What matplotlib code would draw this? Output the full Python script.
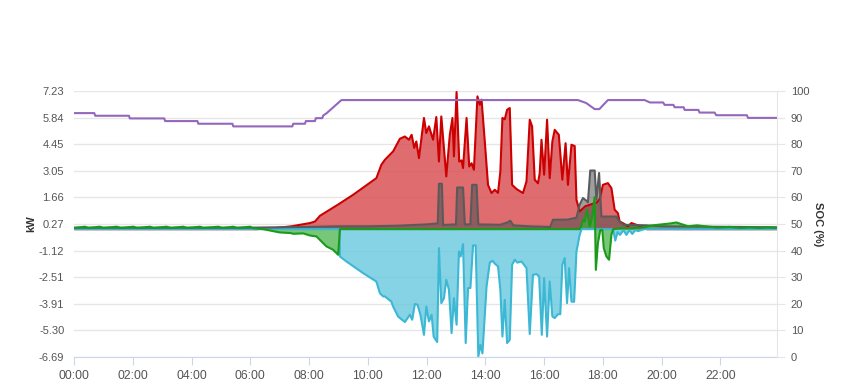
import numpy as np
import matplotlib
matplotlib.use("Agg")
import matplotlib.pyplot as plt

plt.rcParams['font.family'] = ['Liberation Sans', 'DejaVu Sans']

# time in hours of day
pv_t = [0, 6.2, 6.8, 7.4, 8.03, 8.2, 8.37, 9.0, 9.5, 9.9, 10.29, 10.46, 10.58, 10.86, 11.09,
        11.26, 11.4, 11.49, 11.58, 11.65, 11.74, 11.91, 11.99, 12.08, 12.22, 12.33, 12.42,
        12.5, 12.67, 12.79, 12.88, 12.93, 13.02, 13.11, 13.19, 13.24, 13.36, 13.45, 13.53,
        13.61, 13.73, 13.81, 13.87, 13.98, 14.09, 14.21, 14.32, 14.43, 14.51, 14.58, 14.66,
        14.74, 14.83, 14.91, 15.06, 15.28, 15.4, 15.51, 15.59, 15.68, 15.79, 15.85, 15.91,
        16.0, 16.1, 16.19, 16.28, 16.36, 16.5, 16.62, 16.73, 16.81, 16.93, 17.04, 17.1,
        17.21, 17.4, 17.6, 17.8, 17.9, 18.0, 18.17, 18.29, 18.4, 18.51, 18.57, 18.7, 18.85,
        18.97, 19.1, 19.31, 19.5, 23.92]
pv_kw = [0, 0, 0.05, 0.15, 0.32, 0.4, 0.7, 1.3, 1.8, 2.24, 2.67, 3.37, 3.63, 4.07, 4.73,
         4.85, 4.68, 4.94, 4.25, 4.59, 3.72, 5.82, 5.03, 5.38, 4.68, 5.87, 3.54,
         5.9, 2.76, 4.94, 5.82, 3.81, 7.18, 3.54, 3.6, 3.2, 5.82, 3.28, 3.45,
         3.11, 6.95, 6.51, 6.78, 4.59, 2.32, 1.89, 2.06, 1.9, 3.02, 5.82, 5.75,
         6.25, 6.34, 2.32, 2.1, 1.89, 2.5, 5.73, 5.38, 2.59, 2.4, 2.94, 4.68,
         2.85, 5.73, 2.67, 4.59, 5.2, 4.94, 2.59, 4.5, 2.32, 4.42, 4.35, 1.54,
         0.93, 1.2, 1.3, 1.4, 1.6, 2.32, 2.41, 2.15, 1.02, 0.84, 0.4, 0.3, 0.14,
         0.32, 0.25, 0.14, 0.0, 0]

load_t = [0, 6.0, 7.0, 8.0, 9.0, 10.0, 11.0, 12.0, 12.38, 12.42, 12.52, 12.56, 13.0, 13.04,
          13.24, 13.3, 13.49, 13.55, 13.7, 13.76, 14.5, 14.75, 14.85, 14.95, 15.5, 16.15,
          16.19, 16.3, 16.8, 17.1, 17.21, 17.32, 17.43, 17.49, 17.57, 17.72, 17.78, 17.87,
          17.95, 18.46, 18.57, 18.7, 19.5, 20.0, 23.92]
load_kw = [0.08, 0.08, 0.1, 0.12, 0.15, 0.15, 0.18, 0.25, 0.3, 2.38, 2.38, 0.22, 0.25, 2.18,
           2.18, 0.25, 0.25, 2.32, 2.32, 0.25, 0.23, 0.35, 0.44, 0.2, 0.15, 0.12,
           0.05, 0.49, 0.5, 0.6, 1.28, 1.63, 1.5, 1.4, 3.07, 3.07, 1.54, 2.94,
           0.66, 0.66, 0.4, 0.23, 0.2, 0.15, 0.1]

grid_t = [0, 9.04, 9.05, 9.27, 9.84, 10.29, 10.41, 10.52, 10.58, 10.8, 10.86, 11.03, 11.09,
          11.26, 11.43, 11.51, 11.6, 11.69, 11.79, 11.91, 11.99, 12.08, 12.17, 12.24, 12.36,
          12.42, 12.5, 12.59, 12.67, 12.76, 12.85, 12.93, 13.02, 13.1, 13.16, 13.24, 13.33,
          13.41, 13.49, 13.58, 13.67, 13.76, 13.83, 13.9, 14.04, 14.15, 14.24, 14.32, 14.43,
          14.51, 14.58, 14.66, 14.74, 14.83, 14.91, 15.0, 15.09, 15.23, 15.4, 15.51, 15.62,
          15.74, 15.83, 15.92, 16.0, 16.1, 16.19, 16.28, 16.36, 16.47, 16.55, 16.62, 16.7,
          16.78, 16.85, 16.93, 17.02, 17.1, 17.21, 17.27, 18.35, 18.42, 18.5, 18.58, 18.7,
          18.8, 18.9, 19.0, 19.1, 19.2, 19.4, 23.92]
grid_kw = [0, 0, -1.43, -1.69, -2.3, -2.74, -3.35, -3.52, -3.52, -3.79, -4.05, -4.57, -4.65,
           -4.86, -4.48, -4.74, -3.92, -3.95, -4.48, -5.53, -4.05, -4.83, -4.48, -5.62, -5.91,
           -0.99, -3.87, -3.61, -2.65, -3.17, -5.44, -3.61, -5.0, -1.17, -1.43, -0.78, -5.96,
           -3.08, -3.08, -0.85, -0.85, -6.66, -6.05, -6.5, -3.0, -1.75, -1.65, -1.8, -1.95,
           -3.17, -5.62, -3.7, -5.96, -5.79, -1.86, -1.6, -1.75, -1.69, -2.04, -5.49, -2.39,
           -2.35, -2.48, -5.53, -2.56, -5.62, -2.74, -4.57, -4.65, -4.45, -4.45, -1.86, -1.51,
           -3.87, -2.04, -3.79, -3.8, -1.17, -0.29, 0, 0, -0.6, -0.15, -0.3, -0.05,
           -0.3, -0.05, -0.25, -0.05, -0.1, 0, 0]

bat_t = [0, 0.37, 0.5, 0.88, 1.0, 1.45, 1.6, 2.02, 2.15, 2.59, 2.7, 3.15, 3.3, 3.72, 3.85,
         4.29, 4.4, 4.91, 5.05, 5.42, 5.55, 5.99, 6.1, 6.44, 7.0, 7.35, 7.46, 7.8, 8.03,
         8.25, 8.42, 8.59, 8.82, 8.99, 9.05, 17.2, 17.26, 17.32, 17.38, 17.46, 17.55, 17.64,
         17.72, 17.76, 17.83, 17.91, 17.98, 18.03, 18.12, 18.21, 18.29, 18.35, 18.6, 19.0,
         19.4, 19.7, 20.0, 20.3, 20.5, 20.7, 20.9, 21.2, 21.5, 21.9, 22.3, 22.7, 23.0,
         23.3, 23.6, 23.92]
bat_kw = [0.06, 0.13, 0.06, 0.13, 0.06, 0.13, 0.06, 0.13, 0.06, 0.13, 0.06, 0.13, 0.06, 0.13,
          0.06, 0.13, 0.06, 0.13, 0.06, 0.13, 0.06, 0.13, 0.05, 0, -0.17, -0.2, -0.24, -0.22,
          -0.33, -0.38, -0.64, -0.9, -1.08, -1.34, 0, 0, 0.14, 0.49, 0.4, 1.02, 0.14, 0.66,
          1.68, -2.13, -0.73, -0.05, -0.05, -0.99, -1.43, -1.6, -0.29, 0, 0.05, 0.05,
          0.1, 0.2, 0.25, 0.3, 0.35, 0.25, 0.15, 0.2, 0.15, 0.08, 0.12, 0.06, 0.1,
          0.06, 0.1, 0.06]

soc_t = [0, 0.69, 0.72, 1.87, 1.9, 3.07, 3.1, 4.2, 4.23, 5.39, 5.42, 7.43, 7.46, 7.86, 7.89,
         8.2, 8.23, 8.45, 8.48, 8.59, 9.1, 17.15, 17.43, 17.72, 17.88, 18.17, 19.42, 19.6,
         20.05, 20.1, 20.4, 20.44, 20.75, 20.78, 21.25, 21.29, 21.8, 21.86, 22.9, 22.94, 23.92]
soc_pct = [91.7, 91.7, 90.7, 90.7, 89.7, 89.7, 88.7, 88.7, 87.7, 87.7, 86.7, 86.7, 87.7,
           87.7, 88.7, 88.7, 89.8, 89.8, 90.8, 91.6, 96.6, 96.6, 95.5, 93.2, 93.2, 96.6,
           96.6, 95.7, 95.7, 94.8, 94.8, 93.9, 93.9, 92.9, 92.9, 91.9, 91.9, 90.9, 90.9,
           89.9, 89.9]

kw_ticks = [7.23, 5.84, 4.45, 3.05, 1.66, 0.27, -1.12, -2.51, -3.91, -5.30, -6.69]
soc_ticks = [100, 90, 80, 70, 60, 50, 40, 30, 20, 10, 0]
hour_ticks = list(range(0, 24, 2))
hour_labels = ["%02d:00" % h for h in hour_ticks]

fig = plt.figure(figsize=(8.49, 3.9), dpi=100)
ax = fig.add_axes([0.0872, 0.0846, 0.8278, 0.682])

# areas
ax.fill_between(pv_t, pv_kw, 0, color="#d94c4f", alpha=0.82, lw=0)
ax.plot(pv_t, pv_kw, color="#cc0000", lw=1.5)
ax.fill_between(grid_t, grid_kw, 0, color="#68c9df", alpha=0.8, lw=0)
ax.plot(grid_t, grid_kw, color="#3cb8d4", lw=1.5)
ax.fill_between(load_t, load_kw, 0, color="#505050", alpha=0.55, lw=0)
ax.plot(load_t, load_kw, color="#5a5a5a", lw=1.5)
ax.fill_between(bat_t, bat_kw, 0, color="#3fb03f", alpha=0.7, lw=0)
ax.plot(bat_t, bat_kw, color="#1a9a1a", lw=1.5)

ax.set_xlim(0, 23.92)
ax.set_ylim(-6.69, 7.23)
ax.set_yticks(kw_ticks)
ax.set_yticklabels(["%.2f" % v for v in kw_ticks])
ax.set_xticks(hour_ticks)
ax.set_xticklabels(hour_labels)
ax.grid(axis="y", color="#e6e6e6", lw=1)
ax.set_axisbelow(True)
for s in ["top", "left", "right"]:
    ax.spines[s].set_visible(False)
ax.spines["bottom"].set_color("#ccd6eb")
ax.tick_params(axis="x", colors="#ccd6eb", length=6, labelcolor="#555555", labelsize=8.7, pad=3)
ax.tick_params(axis="y", length=0, labelcolor="#555555", labelsize=8, pad=7)
ax.set_ylabel("kW", fontsize=8, fontweight="bold", color="#333333", labelpad=1.5)

ax2 = ax.twinx()
ax2.plot(soc_t, soc_pct, color="#9467bd", lw=1.5)
ax2.set_ylim(0, 100)
ax2.set_yticks(soc_ticks)
for s in ["top", "left", "bottom"]:
    ax2.spines[s].set_visible(False)
ax2.spines["right"].set_color("#e6e6e6")
ax2.tick_params(axis="y", colors="#e6e6e6", length=6, labelcolor="#555555", labelsize=8, pad=4)
ax2.set_ylabel("SOC (%)", fontsize=8, fontweight="bold", color="#333333", rotation=-90, labelpad=10)

fig.savefig("out.png", dpi=100)
